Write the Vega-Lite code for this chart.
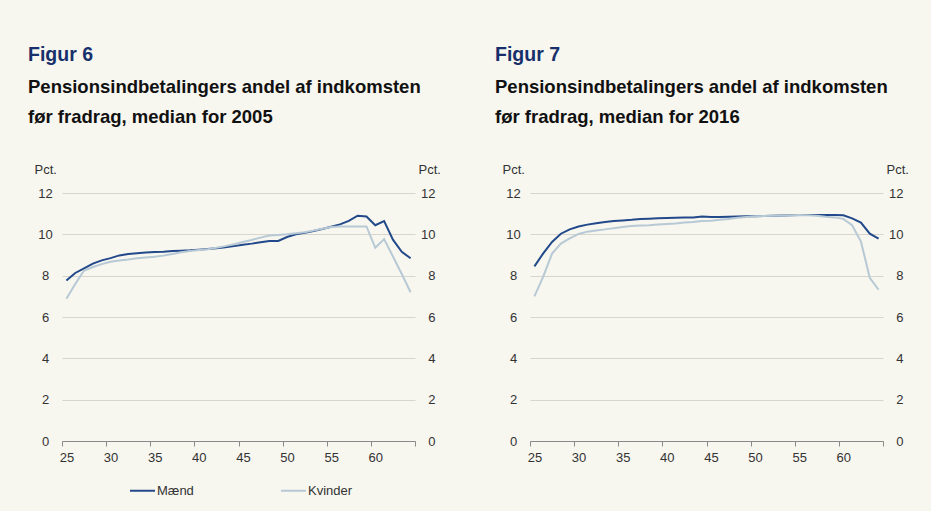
{
  "$schema": "https://vega.github.io/schema/vega-lite/v6.json",
  "background": "#F7F6EF",
  "padding": {"left": 28, "top": 45, "right": 24, "bottom": 14},
  "datasets": {
    "d2005": [
      {"alder":25,"Mænd":7.77,"Kvinder":6.88},{"alder":26,"Mænd":8.13,"Kvinder":7.6},{"alder":27,"Mænd":8.35,"Kvinder":8.25},
      {"alder":28,"Mænd":8.58,"Kvinder":8.42},{"alder":29,"Mænd":8.74,"Kvinder":8.56},{"alder":30,"Mænd":8.85,"Kvinder":8.67},
      {"alder":31,"Mænd":8.98,"Kvinder":8.73},{"alder":32,"Mænd":9.05,"Kvinder":8.78},{"alder":33,"Mænd":9.09,"Kvinder":8.84},
      {"alder":34,"Mænd":9.12,"Kvinder":8.88},{"alder":35,"Mænd":9.14,"Kvinder":8.92},{"alder":36,"Mænd":9.16,"Kvinder":8.97},
      {"alder":37,"Mænd":9.19,"Kvinder":9.05},{"alder":38,"Mænd":9.21,"Kvinder":9.13},{"alder":39,"Mænd":9.23,"Kvinder":9.19},
      {"alder":40,"Mænd":9.26,"Kvinder":9.24},{"alder":41,"Mænd":9.29,"Kvinder":9.28},{"alder":42,"Mænd":9.33,"Kvinder":9.35},
      {"alder":43,"Mænd":9.38,"Kvinder":9.43},{"alder":44,"Mænd":9.43,"Kvinder":9.52},{"alder":45,"Mænd":9.5,"Kvinder":9.63},
      {"alder":46,"Mænd":9.55,"Kvinder":9.73},{"alder":47,"Mænd":9.62,"Kvinder":9.84},{"alder":48,"Mænd":9.68,"Kvinder":9.94},
      {"alder":49,"Mænd":9.68,"Kvinder":9.97},{"alder":50,"Mænd":9.87,"Kvinder":10.0},{"alder":51,"Mænd":10.0,"Kvinder":10.05},
      {"alder":52,"Mænd":10.07,"Kvinder":10.1},{"alder":53,"Mænd":10.16,"Kvinder":10.18},{"alder":54,"Mænd":10.26,"Kvinder":10.27},
      {"alder":55,"Mænd":10.37,"Kvinder":10.35},{"alder":56,"Mænd":10.48,"Kvinder":10.38},{"alder":57,"Mænd":10.65,"Kvinder":10.38},
      {"alder":58,"Mænd":10.9,"Kvinder":10.38},{"alder":59,"Mænd":10.86,"Kvinder":10.38},{"alder":60,"Mænd":10.44,"Kvinder":9.35},
      {"alder":61,"Mænd":10.64,"Kvinder":9.77},{"alder":62,"Mænd":9.74,"Kvinder":8.93},{"alder":63,"Mænd":9.15,"Kvinder":8.08},
      {"alder":64,"Mænd":8.84,"Kvinder":7.2}
    ],
    "d2016": [
      {"alder":25,"Mænd":8.45,"Kvinder":7.0},{"alder":26,"Mænd":9.08,"Kvinder":7.95},{"alder":27,"Mænd":9.63,"Kvinder":9.07},
      {"alder":28,"Mænd":10.03,"Kvinder":9.55},{"alder":29,"Mænd":10.24,"Kvinder":9.8},{"alder":30,"Mænd":10.38,"Kvinder":10.02},
      {"alder":31,"Mænd":10.47,"Kvinder":10.13},{"alder":32,"Mænd":10.54,"Kvinder":10.19},{"alder":33,"Mænd":10.6,"Kvinder":10.24},
      {"alder":34,"Mænd":10.64,"Kvinder":10.3},{"alder":35,"Mænd":10.67,"Kvinder":10.35},{"alder":36,"Mænd":10.7,"Kvinder":10.4},
      {"alder":37,"Mænd":10.74,"Kvinder":10.43},{"alder":38,"Mænd":10.76,"Kvinder":10.44},{"alder":39,"Mænd":10.78,"Kvinder":10.47},
      {"alder":40,"Mænd":10.79,"Kvinder":10.5},{"alder":41,"Mænd":10.8,"Kvinder":10.53},{"alder":42,"Mænd":10.81,"Kvinder":10.57},
      {"alder":43,"Mænd":10.82,"Kvinder":10.6},{"alder":44,"Mænd":10.86,"Kvinder":10.64},{"alder":45,"Mænd":10.84,"Kvinder":10.66},
      {"alder":46,"Mænd":10.84,"Kvinder":10.7},{"alder":47,"Mænd":10.85,"Kvinder":10.74},{"alder":48,"Mænd":10.86,"Kvinder":10.8},
      {"alder":49,"Mænd":10.87,"Kvinder":10.84},{"alder":50,"Mænd":10.88,"Kvinder":10.87},{"alder":51,"Mænd":10.89,"Kvinder":10.89},
      {"alder":52,"Mænd":10.9,"Kvinder":10.9},{"alder":53,"Mænd":10.91,"Kvinder":10.91},{"alder":54,"Mænd":10.92,"Kvinder":10.92},
      {"alder":55,"Mænd":10.93,"Kvinder":10.93},{"alder":56,"Mænd":10.93,"Kvinder":10.92},{"alder":57,"Mænd":10.93,"Kvinder":10.9},
      {"alder":58,"Mænd":10.94,"Kvinder":10.85},{"alder":59,"Mænd":10.93,"Kvinder":10.82},{"alder":60,"Mænd":10.92,"Kvinder":10.75},
      {"alder":61,"Mænd":10.77,"Kvinder":10.44},{"alder":62,"Mænd":10.57,"Kvinder":9.65},{"alder":63,"Mænd":10.03,"Kvinder":7.9},
      {"alder":64,"Mænd":9.79,"Kvinder":7.32}
    ]
  },
  "config": {
    "font": "Liberation Sans",
    "view": {"stroke": null},
    "axis": {"labelFont": "Liberation Sans", "labelFontSize": 13, "labelColor": "#333333", "titleColor": "#333333"},
    "legend": {"labelFont": "Liberation Sans"},
    "title": {"font": "Liberation Sans", "subtitleFont": "Liberation Sans"}
  },
  "spacing": 54,
  "hconcat": [
    {
      "title": {"text": "Figur 6", "subtitle": ["Pensionsindbetalingers andel af indkomsten", "før fradrag, median for 2005"], "anchor": "start", "frame": "group", "dx": -34, "fontSize": 19.5, "fontWeight": "bold", "color": "#17306B", "subtitleFontSize": 18.5, "subtitleFontWeight": "bold", "subtitleColor": "#111111", "subtitleLineHeight": 30, "subtitlePadding": 12, "offset": 36},
      "width": 353, "height": 248,
      "data": {"name": "d2005"},
      "transform": [{"fold": ["Mænd", "Kvinder"], "as": ["køn", "pct"]}],
      "encoding": {
        "x": {"field": "alder", "type": "quantitative", "scale": {"domain": [24.5, 64.5], "nice": false, "zero": false},
          "axis": {"title": null, "values": [24.5,29.5,34.5,39.5,44.5,49.5,54.5,59.5,64.5], "labelExpr": "datum.value > 64 ? '' : toString(datum.value + 0.5)", "labelOffset": 4.4, "grid": false, "domainColor": "#8A8A8A", "tickColor": "#8A8A8A", "tickSize": 5, "labelPadding": 5, "labelFlush": false}}
      },
      "layer": [
        {
          "mark": {"type": "line", "strokeWidth": 2},
          "encoding": {
            "y": {"field": "pct", "type": "quantitative", "scale": {"domain": [0, 12], "nice": false},
              "axis": {"orient": "left", "values": [0,2,4,6,8,10,12], "grid": true, "gridColor": "#D6D5CE", "gridWidth": 1.2, "domain": false, "ticks": false, "labelAlign": "center", "labelPadding": 17, "title": "Pct.", "titleAngle": 0, "titleAlign": "left", "titleBaseline": "alphabetic", "titleX": -28, "titleY": -20, "titleFontWeight": "normal", "titleFontSize": 13}},
            "color": {"field": "køn", "type": "nominal", "scale": {"domain": ["Mænd", "Kvinder"], "range": ["#22498A", "#B7C9D5"]},
              "legend": {"title": null, "orient": "none", "direction": "horizontal", "legendX": 67, "legendY": 284, "symbolType": "stroke", "symbolSize": 625, "symbolStrokeWidth": 2, "labelOffset": 1, "labelFontSize": 13, "labelColor": "#333333", "columnPadding": 83}}
          }
        },
        {
          "mark": {"type": "line", "strokeOpacity": 0},
          "encoding": {
            "detail": {"field": "køn"},
            "y": {"field": "pct", "type": "quantitative", "scale": {"domain": [0, 12], "nice": false},
              "axis": {"orient": "right", "values": [0,2,4,6,8,10,12], "grid": false, "domain": false, "ticks": false, "labelAlign": "right", "labelPadding": 20, "title": "Pct.", "titleAngle": 0, "titleAlign": "left", "titleBaseline": "alphabetic", "titleX": 3, "titleY": -20, "titleFontWeight": "normal", "titleFontSize": 13}}
          }
        }
      ],
      "resolve": {"scale": {"y": "independent"}}
    },
    {
      "title": {"text": "Figur 7", "subtitle": ["Pensionsindbetalingers andel af indkomsten", "før fradrag, median for 2016"], "anchor": "start", "frame": "group", "dx": -35, "fontSize": 19.5, "fontWeight": "bold", "color": "#17306B", "subtitleFontSize": 18.5, "subtitleFontWeight": "bold", "subtitleColor": "#111111", "subtitleLineHeight": 30, "subtitlePadding": 12, "offset": 36},
      "width": 353, "height": 248,
      "data": {"name": "d2016"},
      "transform": [{"fold": ["Mænd", "Kvinder"], "as": ["køn", "pct"]}],
      "encoding": {
        "x": {"field": "alder", "type": "quantitative", "scale": {"domain": [24.5, 64.5], "nice": false, "zero": false},
          "axis": {"title": null, "values": [24.5,29.5,34.5,39.5,44.5,49.5,54.5,59.5,64.5], "labelExpr": "datum.value > 64 ? '' : toString(datum.value + 0.5)", "labelOffset": 4.4, "grid": false, "domainColor": "#8A8A8A", "tickColor": "#8A8A8A", "tickSize": 5, "labelPadding": 5, "labelFlush": false}}
      },
      "layer": [
        {
          "mark": {"type": "line", "strokeWidth": 2},
          "encoding": {
            "y": {"field": "pct", "type": "quantitative", "scale": {"domain": [0, 12], "nice": false},
              "axis": {"orient": "left", "values": [0,2,4,6,8,10,12], "grid": true, "gridColor": "#D6D5CE", "gridWidth": 1.2, "domain": false, "ticks": false, "labelAlign": "center", "labelPadding": 17, "title": "Pct.", "titleAngle": 0, "titleAlign": "left", "titleBaseline": "alphabetic", "titleX": -28, "titleY": -20, "titleFontWeight": "normal", "titleFontSize": 13}},
            "color": {"field": "køn", "type": "nominal", "scale": {"domain": ["Mænd", "Kvinder"], "range": ["#22498A", "#B7C9D5"]},
              "legend": {"title": null, "orient": "none", "direction": "horizontal", "legendX": 67, "legendY": 284, "symbolType": "stroke", "symbolSize": 625, "symbolStrokeWidth": 2, "labelOffset": 1, "labelFontSize": 13, "labelColor": "#333333", "columnPadding": 83}}
          }
        },
        {
          "mark": {"type": "line", "strokeOpacity": 0},
          "encoding": {
            "detail": {"field": "køn"},
            "y": {"field": "pct", "type": "quantitative", "scale": {"domain": [0, 12], "nice": false},
              "axis": {"orient": "right", "values": [0,2,4,6,8,10,12], "grid": false, "domain": false, "ticks": false, "labelAlign": "right", "labelPadding": 20, "title": "Pct.", "titleAngle": 0, "titleAlign": "left", "titleBaseline": "alphabetic", "titleX": 3, "titleY": -20, "titleFontWeight": "normal", "titleFontSize": 13}}
          }
        }
      ],
      "resolve": {"scale": {"y": "independent"}}
    }
  ]
}
